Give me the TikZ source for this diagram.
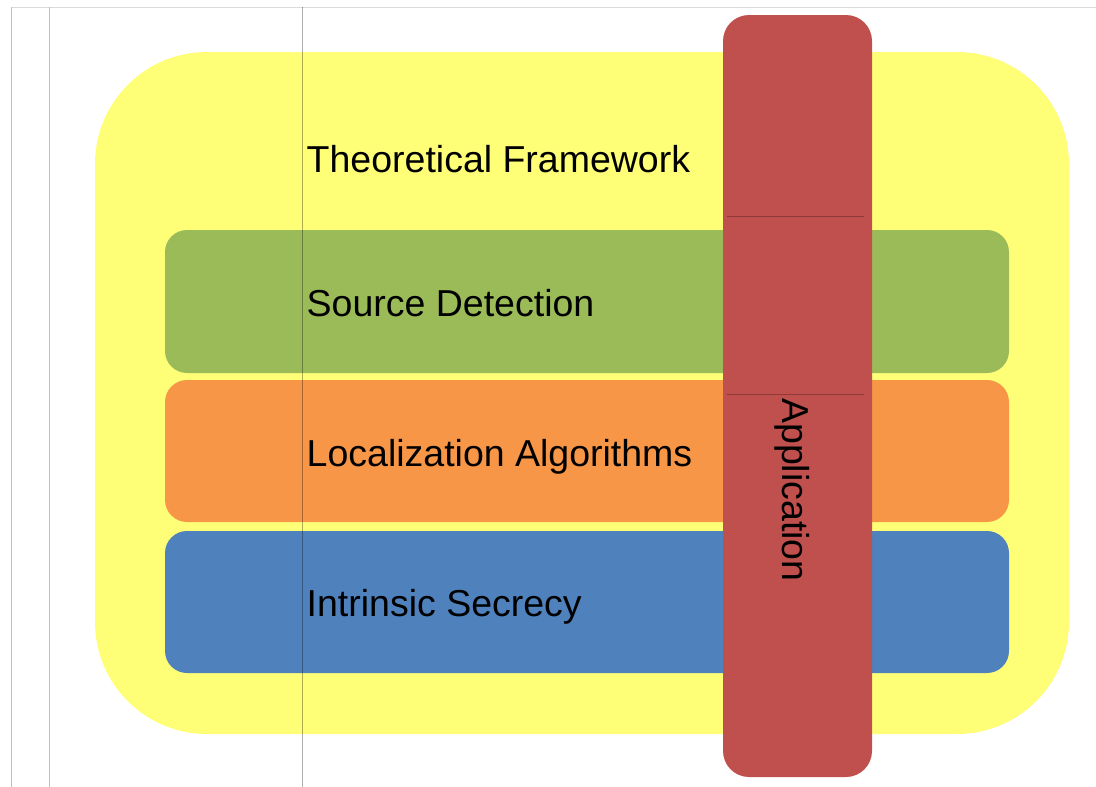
\documentclass[tikz,border=0pt]{standalone}
\usepackage{fontspec}
\setmainfont{Liberation Sans}
\definecolor{cYellow}{HTML}{FFFF77}
\definecolor{cGreen}{HTML}{9BBB59}
\definecolor{cOrange}{HTML}{F79646}
\definecolor{cBlue}{HTML}{4F81BD}
\definecolor{cRed}{HTML}{C0504D}
\definecolor{cRedLine}{HTML}{8E3A38}
\tikzset{
  lbl/.style={anchor=base west, inner sep=0pt, font=\fontsize{37.5}{42}\selectfont, text=black},
  band/.style={rounded corners=22pt},
  guide/.style={line width=1pt, draw=black!25},
}
\begin{document}
\begin{tikzpicture}[x=1pt,y=-1pt]
\useasboundingbox (0,0) rectangle (1096,787);
\fill[white] (0,0) rectangle (1096,787);
% guides
\draw[line width=1pt, draw=black!14] (11,7) -- (1096,7);
\draw[guide] (11.5,7) -- (11.5,787);
\draw[guide] (49.5,7) -- (49.5,787);
% outer yellow
\fill[cYellow, rounded corners=112pt] (95,52) rectangle (1069,734);
% bands
\fill[cGreen, band] (165,230) rectangle (1009,373);
\fill[cOrange, band] (165,380) rectangle (1009,522);
\fill[cBlue, band] (165,531) rectangle (1009,673);
% red application bar
\fill[cRed, rounded corners=26pt] (723,15) rectangle (872,777);
\draw[cRedLine, line width=0.8pt] (727,216) -- (864,216);
\draw[cRedLine, line width=0.8pt] (727,394) -- (864,394);
% texts
\node[lbl] (tf) at (306.5,172.7) {Theoretical Framework};
\node[lbl] (sd) at (306.5,316.7) {Source Detection};
\node[lbl] (la) at (306.5,466.7) {Localization Algorithms};
\node[lbl] (is) at (306.5,616.7) {Intrinsic Secrecy};
\node[lbl, rotate=-90] (ap) at (782.5,398) {Application};
% overlay vertical guide
\draw[line width=1pt, draw=black, opacity=0.32] (302.5,7) -- (302.5,787);
\end{tikzpicture}
\end{document}
